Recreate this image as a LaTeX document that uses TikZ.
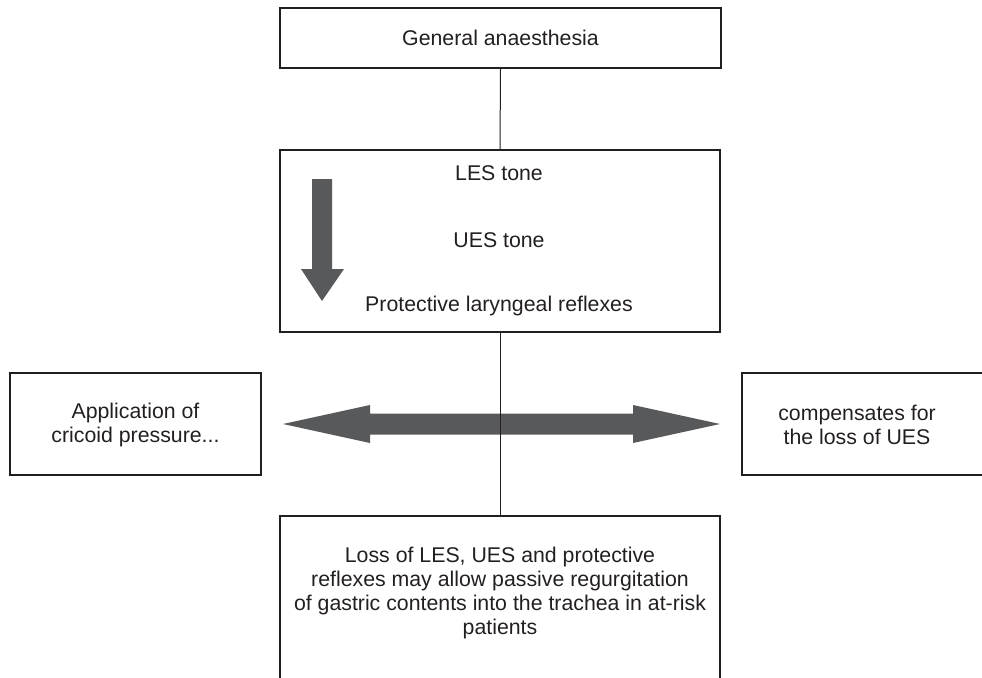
\documentclass[tikz,border=0pt]{standalone}
\usepackage{fontspec}
\setmainfont{Liberation Sans}
\definecolor{arrowgray}{HTML}{58595B}
\definecolor{inkgray}{HTML}{231F20}
\begin{document}
\begin{tikzpicture}[x=1pt,y=-1pt,
  box/.style={draw=inkgray, line width=1.2pt, inner sep=0pt, rectangle},
  txt/.style={font=\fontsize{21.3}{24.2}\selectfont, text=inkgray, align=center, inner sep=0pt},
  link/.style={draw=inkgray, line width=1pt},
  bigarrow/.style={fill=arrowgray, draw=none}]
\useasboundingbox (0,0) rectangle (982,677);
\clip (0,0) rectangle (982,677);

% boxes
\node[box, txt, minimum width=441pt, minimum height=60pt] (ga) at (500.5,38) {General anaesthesia};
\node[box, minimum width=440pt, minimum height=182pt] (tone) at (500,241) {};
\node[box, minimum width=251pt, minimum height=102pt] (cric) at (135.5,424) {};
\node[box, minimum width=251pt, minimum height=102pt] (comp) at (867.5,424) {};
\node[box, minimum width=440pt, minimum height=184pt] (loss) at (500,608) {};

% texts
\node[txt] (les) at (499,173) {LES tone};
\node[txt] (ues) at (499,240) {UES tone};
\node[txt] (plr) at (499,306) {Protective laryngeal reflexes};
\node[txt] (crictxt) at (135.5,425) {Application of\\cricoid pressure...};
\node[txt] (comptxt) at (857,425) {compensates for\\the loss of UES};
\node[txt] (losstxt) at (500,593) {Loss of LES, UES and protective\\reflexes may allow passive regurgitation\\of gastric contents into the trachea in at-risk\\patients};

% down arrow
\fill[bigarrow] (312,179) -- (332,179) -- (332,269) -- (344,269) -- (322,301)
  -- (301,269) -- (312,269) -- cycle;

% double arrow
\fill[bigarrow] (283,424) -- (370,405) -- (370,413.5) -- (633,413.5) -- (633,405)
  -- (720,424) -- (633,443) -- (633,434.5) -- (370,434.5) -- (370,443) -- cycle;

% connectors
\draw[link] (ga.south) -- (tone.north);
\draw[link] (tone.south) -- (loss.north);
\end{tikzpicture}
\end{document}
